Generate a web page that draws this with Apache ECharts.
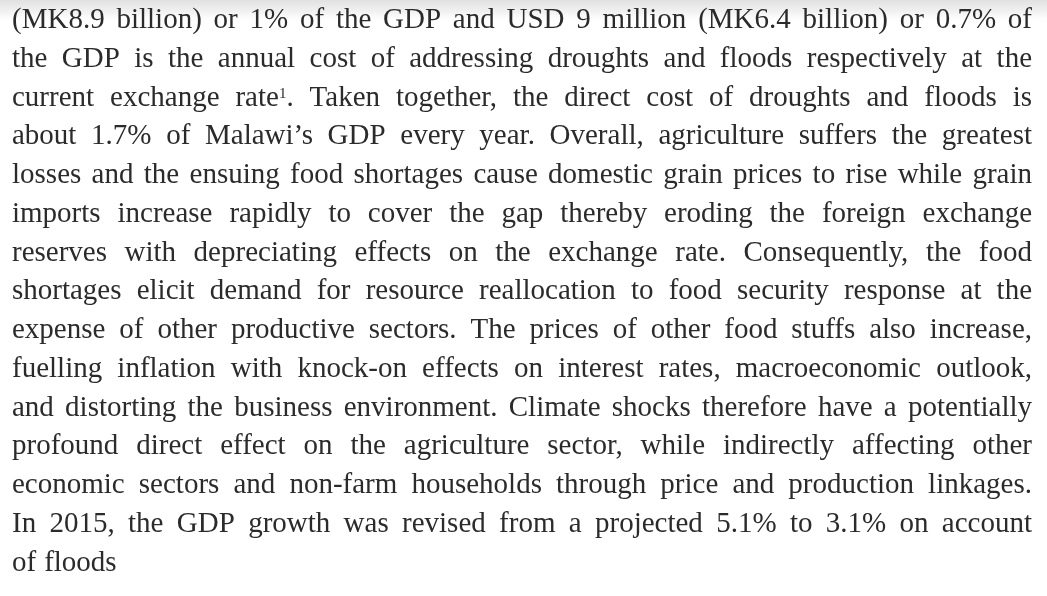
<!DOCTYPE html>
<html>
<head>
<meta charset="utf-8">
<script src="https://cdn.jsdelivr.net/npm/echarts@6/dist/echarts.min.js"></script>
<style>
html,body{margin:0;padding:0;background:#fff;}
#chart{width:1047px;height:596px;}
</style>
</head>
<body>
<div id="chart"></div>
<script>
// Paragraph lines ("^" marks a superscript footnote number)
var lines = [
  "(MK8.9 billion) or 1% of the GDP and USD 9 million (MK6.4 billion) or 0.7% of",
  "the GDP is the annual cost of addressing droughts and floods respectively at the",
  "current exchange rate^1. Taken together, the direct cost of droughts and floods is",
  "about 1.7% of Malawi\u2019s GDP every year. Overall, agriculture suffers the greatest",
  "losses and the ensuing food shortages cause domestic grain prices to rise while grain",
  "imports increase rapidly to cover the gap thereby eroding the foreign exchange",
  "reserves with depreciating effects on the exchange rate. Consequently, the food",
  "shortages elicit demand for resource reallocation to food security response at the",
  "expense of other productive sectors. The prices of other food stuffs also increase,",
  "fuelling inflation with knock-on effects on interest rates, macroeconomic outlook,",
  "and distorting the business environment. Climate shocks therefore have a potentially",
  "profound direct effect on the agriculture sector, while indirectly affecting other",
  "economic sectors and non-farm households through price and production linkages.",
  "In 2015, the GDP growth was revised from a projected 5.1% to 3.1% on account",
  "of floods"
];

var FONT_FAMILY = '"Liberation Serif", "Times New Roman", serif';
var FONT_SIZE = 29;
var SUP_SIZE = 15;
var LEFT = 12, RIGHT = 1032, FIRST_BASE = 35, LINE_GAP = 38.75;
var COLOR = '#2b2b2b';

var cv = document.createElement('canvas').getContext('2d');
function measure(t, size) {
  cv.font = size + 'px ' + FONT_FAMILY;
  return cv.measureText(t).width;
}

// split a word into pieces (normal / superscript)
function pieces(word) {
  var out = [];
  var re = /\^(\d+)/g, last = 0, m;
  while ((m = re.exec(word))) {
    if (m.index > last) out.push({t: word.slice(last, m.index), sup: false});
    out.push({t: m[1], sup: true});
    last = m.index + m[0].length;
  }
  if (last < word.length) out.push({t: word.slice(last), sup: false});
  return out.map(function (p) {
    p.w = measure(p.t, p.sup ? SUP_SIZE : FONT_SIZE);
    return p;
  });
}

var elements = [];
// faint grey paper tint at top
elements.push({
  type: 'rect', left: 0, top: 0, silent: true, z: -1,
  shape: {width: 1047, height: 24},
  style: {fill: new echarts.graphic.LinearGradient(0, 0, 0, 1, [
    {offset: 0, color: 'rgba(225,225,225,1)'},
    {offset: 0.5, color: 'rgba(238,238,238,0.8)'},
    {offset: 1, color: 'rgba(255,255,255,0)'}
  ])}
});

var spaceW = measure(' ', FONT_SIZE);
lines.forEach(function (line, li) {
  var words = line.split(' ').map(pieces);
  var widths = words.map(function (ps) { return ps.reduce(function (a, p) { return a + p.w; }, 0); });
  var total = widths.reduce(function (a, b) { return a + b; }, 0);
  var isLast = li === lines.length - 1;
  var avail = RIGHT - LEFT;
  var gap = isLast ? spaceW * 1.1 : (avail - total) / (words.length - 1);
  var scale = 1;
  if (!isLast && gap < spaceW * 0.7) {
    scale = (avail - spaceW * 0.7 * (words.length - 1)) / total;
    gap = spaceW * 0.7;
  }
  var base = FIRST_BASE + li * LINE_GAP;
  var x = LEFT;
  words.forEach(function (ps, wi) {
    ps.forEach(function (p) {
      elements.push({
        type: 'text', silent: true,
        x: x, y: p.sup ? base - FONT_SIZE * 0.38 : base,
        scaleX: scale,
        style: {
          text: p.t,
          font: (p.sup ? SUP_SIZE : FONT_SIZE) + 'px ' + FONT_FAMILY,
          fill: COLOR,
          align: 'left',
          verticalAlign: 'bottom'
        }
      });
      x += p.w * scale;
    });
    x += gap;
  });
});

var chart = echarts.init(document.getElementById('chart'), null, {renderer: 'canvas'});
chart.setOption({
  backgroundColor: '#ffffff',
  animation: false,
  graphic: {elements: elements}
});
</script>
</body>
</html>
